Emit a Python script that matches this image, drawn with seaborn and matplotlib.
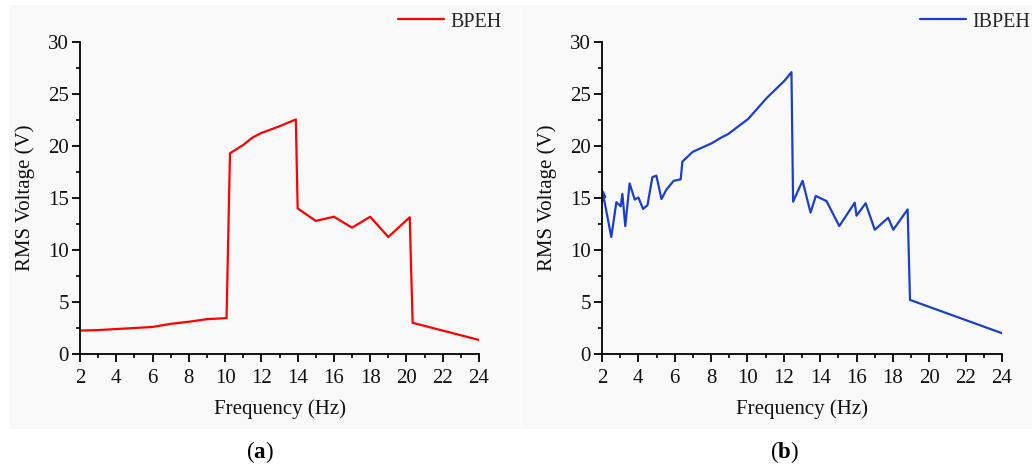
import matplotlib
matplotlib.use("Agg")
import matplotlib.pyplot as plt
import seaborn as sns
import pandas as pd
from matplotlib.patches import Rectangle
from matplotlib.ticker import MultipleLocator

# ---- data ----
freq_a = [2.0, 3.0, 4.0, 5.0, 6.0, 7.0, 8.0, 9.0, 10.08, 10.27, 11.0, 11.5, 12.0,
          13.0, 13.9, 14.0, 15.0, 16.0, 17.0, 18.0, 19.0, 20.18, 20.34, 24.0]
volt_a = [2.25, 2.3, 2.4, 2.5, 2.6, 2.9, 3.1, 3.35, 3.45, 19.3, 20.1, 20.8, 21.25,
          21.9, 22.55, 14.0, 12.8, 13.2, 12.15, 13.2, 11.25, 13.15, 3.0, 1.35]

freq_b = [2.0, 2.05, 2.18, 2.1, 2.51, 2.79, 3.03, 3.12, 3.28, 3.52, 3.8, 4.0, 4.26,
          4.5, 4.77, 4.99, 5.27, 5.54, 5.94, 6.33, 6.42, 7.0, 8.02, 8.6, 8.94,
          10.04, 11.05, 12.05, 12.42, 12.51, 13.03, 13.47, 13.76, 14.35, 15.05,
          15.9, 16.0, 16.5, 17.0, 17.74, 18.02, 18.81, 18.94, 24.0]
volt_b = [14.6, 15.6, 15.1, 15.0, 11.25, 14.6, 14.2, 15.4, 12.3, 16.4, 14.85, 15.05,
          13.95, 14.3, 17.0, 17.15, 14.9, 15.8, 16.65, 16.8, 18.5, 19.45, 20.25,
          20.85, 21.15, 22.6, 24.6, 26.3, 27.1, 14.65, 16.65, 13.6, 15.2, 14.7,
          12.3, 14.55, 13.3, 14.5, 11.95, 13.1, 11.95, 13.9, 5.2, 2.0]

x_ticks = [2, 4, 6, 8, 10, 12, 14, 16, 18, 20, 22, 24]
y_ticks = [0, 5, 10, 15, 20, 25, 30]
series_names = ["BPEH", "IBPEH"]
panel_labels = ["a", "b"]
x_label = "Frequency (Hz)"
y_label = "RMS Voltage (V)"

# ---- style ----
sns.set_theme(style="ticks")
plt.rcParams["font.family"] = ["Liberation Serif", "DejaVu Serif"]
plt.rcParams["mathtext.fontset"] = "custom"
plt.rcParams["mathtext.rm"] = "Liberation Serif"
plt.rcParams["mathtext.bf"] = "Liberation Serif:bold"

W, H = 1032, 466
fig = plt.figure(figsize=(W / 100, H / 100), dpi=100)
fig.patch.set_facecolor("white")

# light grey panel backgrounds
for (x0, x1) in [(9, 521), (522, 1032)]:
    fig.patches.append(Rectangle((x0 / W, 1 - 429 / H), (x1 - x0) / W, (429 - 5) / H,
                                 transform=fig.transFigure, facecolor="#f9f9f9",
                                 edgecolor="none", zorder=-10))

colors = ["#ff0000", "#1a3fcc"]
datasets = [(freq_a, volt_a), (freq_b, volt_b)]
ax_left_px = [80, 602]
ax_right_px = [479, 1002]
legend_x_px = [398, 920]
label_center_px = [260, 784]

for i in range(2):
    l = ax_left_px[i] / W
    w = (ax_right_px[i] - ax_left_px[i]) / W
    b = 1 - 354 / H
    h = (354 - 42) / H
    ax = fig.add_axes([l, b, w, h])
    ax.set_facecolor("none")
    df = pd.DataFrame({"Frequency": datasets[i][0], "Voltage": datasets[i][1]})
    sns.lineplot(data=df, x="Frequency", y="Voltage", ax=ax, sort=False,
                 estimator=None, color=colors[i], linewidth=1.6,
                 label=series_names[i])
    ax.set_xlim(2, 24)
    ax.set_ylim(0, 30)
    ax.set_xticks(x_ticks)
    ax.set_yticks(y_ticks)
    ax.xaxis.set_minor_locator(MultipleLocator(1))
    ax.yaxis.set_minor_locator(MultipleLocator(2.5))
    for s in ["top", "right"]:
        ax.spines[s].set_visible(False)
    for s in ["left", "bottom"]:
        ax.spines[s].set_color("black")
        ax.spines[s].set_linewidth(1.3)
    ax.tick_params(axis="both", which="major", direction="out", length=6,
                   width=1.3, color="black", labelsize=15, labelcolor="#111111")
    ax.tick_params(axis="both", which="minor", direction="out", length=3,
                   width=1.2, color="black")
    ax.tick_params(axis="x", which="major", pad=4.5)
    ax.tick_params(axis="y", which="major", pad=2)
    ax.set_xlabel(x_label, fontsize=15, color="#111111", labelpad=8.5)
    ax.set_ylabel(y_label, fontsize=15, color="#111111", labelpad=9.5)
    ax.legend(loc="center left", bbox_to_anchor=(legend_x_px[i] / W, 1 - 22 / H),
              bbox_transform=fig.transFigure, frameon=False, fontsize=14.5,
              handlelength=2.3, handletextpad=0.3, borderpad=0, borderaxespad=0)
    fig.text(label_center_px[i] / W, 1 - 452 / H,
             "(" + r"$\mathbf{" + panel_labels[i] + "}$" + ")",
             ha="center", va="center", fontsize=16.5, color="black")

fig.savefig("out.png", dpi=100)
